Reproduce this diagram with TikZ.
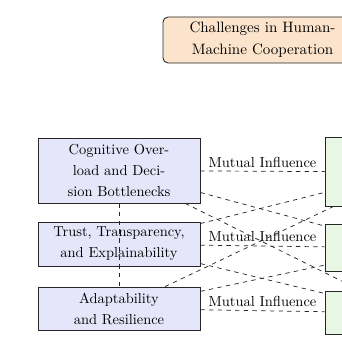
\documentclass[tikz,border=0pt]{standalone}
\definecolor{leftfill}{RGB}{230,230,250}
\definecolor{rightfill}{RGB}{232,246,228}
\definecolor{titlefill}{RGB}{252,228,204}
\begin{document}
\begin{tikzpicture}[x=0.691pt,y=-0.691pt,
  box/.style={draw=black!85, line width=0.6pt, align=center, minimum width=111.9pt, inner sep=3pt, font=\fontsize{10}{14.5}\selectfont},
  leftbox/.style={box, fill=leftfill},
  rightbox/.style={box, fill=rightfill},
  titlebox/.style={box, fill=titlefill, rounded corners=3.5pt, minimum width=137.5pt, minimum height=31.8pt, font=\fontsize{10.4}{15}\selectfont},
  link/.style={dashed, line width=0.5pt, draw=black!85},
  lab/.style={above, font=\fontsize{10}{12}\selectfont, inner sep=2.5pt}
]
\useasboundingbox (0,0) rectangle (342,342);
\node[titlebox] (title) at (262.5,40) {Challenges in Human-\\Machine Cooperation};
\node[leftbox, minimum height=44.9pt] (l1) at (119,170.5) {Cognitive Over-\\load and Deci-\\sion Bottlenecks};
\node[leftbox, minimum height=30.4pt] (l2) at (119,244) {Trust, Transparency,\\and Explainability};
\node[leftbox, minimum height=29.7pt] (l3) at (119,308.5) {Adaptability\\and Resilience};
\node[rightbox, minimum height=47.7pt] (r1) at (406,172) {};
\node[rightbox, minimum height=32.5pt] (r2) at (406,248) {};
\node[rightbox, minimum height=29.7pt] (r3) at (406,313) {};
\draw[link] (l1) -- node[lab] {Mutual Influence} (r1);
\draw[link] (l2) -- node[lab] {Mutual Influence} (r2);
\draw[link] (l3) -- node[lab] {Mutual Influence} (r3);
\draw[link] (l1) -- (r2);
\draw[link] (l1) -- (r3);
\draw[link] (l2) -- (r1);
\draw[link] (l2) -- (r3);
\draw[link] (l3) -- (r1);
\draw[link] (l3) -- (r2);
\draw[link] (l1) -- (l3);
\end{tikzpicture}
\end{document}
